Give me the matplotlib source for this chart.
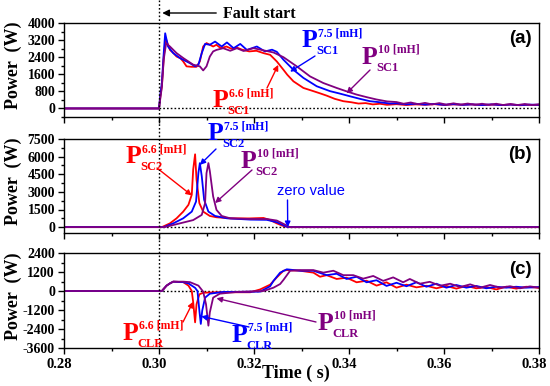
import matplotlib
matplotlib.use("Agg")
import matplotlib.pyplot as plt
from matplotlib.ticker import MultipleLocator, FormatStrFormatter
from matplotlib.lines import Line2D
from matplotlib.transforms import blended_transform_factory, ScaledTranslation

plt.rcParams['font.family'] = ['Liberation Serif', 'DejaVu Serif']
plt.rcParams['font.weight'] = 'bold'
plt.rcParams['axes.labelweight'] = 'bold'
plt.rcParams['axes.unicode_minus'] = False

RED = '#ff0000'
BLUE = '#0000ff'
PURPLE = '#800080'

# ---- (a) P_SC1 ----
t_sc1_66 = [0.280, 0.3000, 0.3003, 0.3006, 0.3010, 0.3014, 0.3023, 0.3030, 0.3037, 0.3045,
            0.3051, 0.3058, 0.3068, 0.3079, 0.3086, 0.3093, 0.3100, 0.3107, 0.3114, 0.3121,
            0.3130, 0.3142, 0.3152, 0.3164, 0.3175, 0.3190, 0.3205, 0.3220, 0.3234, 0.3248,
            0.3262, 0.3270, 0.3283, 0.3304, 0.3325, 0.3340, 0.3353, 0.3370, 0.3388, 0.3405,
            0.3420, 0.3435, 0.3450, 0.3465, 0.3480, 0.3500, 0.3520, 0.3540, 0.3560, 0.3580,
            0.3600, 0.3620, 0.3640, 0.3660, 0.3680, 0.3700, 0.3720, 0.3740, 0.3760, 0.3780, 0.3800]
p_sc1_66 = [0, 0, 600, 1040, 2400, 3290, 2740, 2600, 2430, 2350,
            2200, 1970, 1950, 1950, 2200, 2900, 3060, 2980, 2900, 2980,
            2820, 2900, 2800, 2850, 2750, 2670, 2700, 2590, 2510, 2200,
            1810, 1580, 1270, 960, 810, 700, 600, 450, 340, 290,
            230, 250, 190, 220, 170, 200, 160, 190, 170, 200,
            160, 190, 170, 190, 160, 180, 160, 180, 150, 170, 160]

t_sc1_75 = [0.280, 0.3000, 0.3003, 0.3006, 0.3010, 0.3013, 0.3019, 0.3030, 0.3044, 0.3058,
            0.3065, 0.3076, 0.3083, 0.3090, 0.3097, 0.3107, 0.3118, 0.3132, 0.3143, 0.3157,
            0.3171, 0.3185, 0.3206, 0.3223, 0.3238, 0.3248, 0.3262, 0.3283, 0.3304, 0.3332,
            0.3360, 0.3380, 0.3402, 0.3423, 0.3444, 0.3465, 0.3486, 0.3500, 0.3520, 0.3540,
            0.3560, 0.3580, 0.3600, 0.3620, 0.3640, 0.3660, 0.3680, 0.3700, 0.3720, 0.3740,
            0.3760, 0.3780, 0.3800]
p_sc1_75 = [0, 0, 700, 1200, 2600, 3520, 2900, 2590, 2360, 2200,
            2120, 1970, 2050, 2590, 3020, 2980, 3130, 2900, 3090, 2820,
            3020, 2740, 2900, 2670, 2750, 2650, 2280, 1810, 1430, 1040,
            810, 700, 570, 450, 340, 290, 230, 240, 190, 220,
            180, 210, 170, 200, 170, 190, 160, 190, 160, 180,
            160, 180, 170]

t_sc1_10 = [0.280, 0.3000, 0.3003, 0.3006, 0.3010, 0.3015, 0.3023, 0.3037, 0.3051, 0.3072,
            0.3086, 0.3093, 0.3100, 0.3107, 0.3114, 0.3121, 0.3135, 0.3150, 0.3164, 0.3178,
            0.3199, 0.3220, 0.3241, 0.3262, 0.3290, 0.3318, 0.3346, 0.3374, 0.3395, 0.3416,
            0.3437, 0.3458, 0.3480, 0.3500, 0.3515, 0.3530, 0.3545, 0.3560, 0.3575, 0.3590,
            0.3605, 0.3620, 0.3635, 0.3650, 0.3665, 0.3680, 0.3695, 0.3710, 0.3725, 0.3740,
            0.3755, 0.3770, 0.3785, 0.3800]
p_sc1_10 = [0, 0, 500, 1000, 2300, 3050, 2900, 2590, 2360, 2050,
            1970, 1780, 1970, 2430, 2670, 2740, 2820, 2700, 2820, 2690,
            2820, 2720, 2620, 2400, 1970, 1500, 1190, 960, 800, 650,
            530, 420, 330, 300, 220, 280, 200, 260, 190, 250,
            180, 240, 180, 230, 170, 220, 170, 220, 160, 210,
            160, 210, 160, 200]

# ---- (b) P_SC2 ----
t_sc2_66 = [0.280, 0.3006, 0.3023, 0.3037, 0.3051, 0.3062, 0.3069, 0.3072, 0.3076, 0.3079,
            0.3085, 0.3093, 0.3107, 0.3121, 0.3150, 0.3190, 0.3220, 0.3234, 0.3248, 0.3262,
            0.3272, 0.3800]
p_sc2_66 = [0, 0, 320, 750, 1320, 1900, 2760, 4910, 6200, 4050,
            2040, 1320, 950, 840, 750, 740, 780, 600, 320, 90,
            0, 0]

t_sc2_75 = [0.280, 0.3010, 0.3030, 0.3051, 0.3069, 0.3078, 0.3083, 0.3086, 0.3090, 0.3095,
            0.3104, 0.3118, 0.3143, 0.3192, 0.3227, 0.3248, 0.3265, 0.3272, 0.3800]
p_sc2_75 = [0, 0, 320, 750, 1320, 2180, 4630, 5450, 4340, 2330,
            1320, 950, 750, 640, 620, 420, 100, 0, 0]

t_sc2_10 = [0.280, 0.3012, 0.3044, 0.3072, 0.3090, 0.3097, 0.3100, 0.3104, 0.3107, 0.3114,
            0.3121, 0.3132, 0.3150, 0.3192, 0.3227, 0.3248, 0.3266, 0.3275, 0.3800]
p_sc2_10 = [0, 0, 320, 600, 1040, 2040, 4590, 5450, 4770, 2610,
            1470, 950, 750, 690, 690, 560, 200, 0, 0]

# ---- (c) P_CLR ----
t_clr_66 = [0.280, 0.3006, 0.3016, 0.3023, 0.3030, 0.3051, 0.3062, 0.3069, 0.3072, 0.3076,
            0.3079, 0.3085, 0.3093, 0.3121, 0.3192, 0.3213, 0.3234, 0.3248, 0.3262, 0.3269,
            0.3297, 0.3325, 0.3339, 0.3353, 0.3374, 0.3395, 0.3416, 0.3437, 0.3458, 0.3479,
            0.3500, 0.3521, 0.3542, 0.3563, 0.3584, 0.3605, 0.3626, 0.3647, 0.3668, 0.3689,
            0.3710, 0.3731, 0.3752, 0.3773, 0.3800]
p_clr_66 = [0, 0, 340, 480, 590, 560, 340, 0, -715, -1980,
            -840, -210, -110, -80, -80, 100, 400, 860, 1280, 1320,
            1280, 1160, 900, 1000, 760, 840, 550, 650, 340, 550,
            210, 400, 230, 330, 170, 320, 150, 320, 170, 250,
            100, 270, 150, 270, 200]

t_clr_75 = [0.280, 0.3006, 0.3016, 0.3023, 0.3030, 0.3051, 0.3062, 0.3076, 0.3081, 0.3085,
            0.3088, 0.3091, 0.3097, 0.3107, 0.3135, 0.3213, 0.3234, 0.3241, 0.3255, 0.3269,
            0.3297, 0.3325, 0.3353, 0.3374, 0.3395, 0.3416, 0.3437, 0.3458, 0.3479, 0.3500,
            0.3521, 0.3542, 0.3563, 0.3584, 0.3605, 0.3626, 0.3647, 0.3668, 0.3689, 0.3710,
            0.3731, 0.3752, 0.3773, 0.3800]
p_clr_75 = [0, 0, 340, 480, 590, 560, 480, 200, 0, -1240,
            -2080, -1240, -420, -170, -60, -40, 300, 640, 1160, 1370,
            1280, 1280, 1000, 1090, 760, 900, 550, 680, 320, 520,
            300, 550, 270, 460, 210, 380, 210, 320, 170, 270,
            210, 270, 210, 250]

t_clr_10 = [0.280, 0.3006, 0.3016, 0.3023, 0.3030, 0.3051, 0.3065, 0.3083, 0.3093, 0.3099,
            0.3104, 0.3107, 0.3114, 0.3128, 0.3164, 0.3220, 0.3241, 0.3255, 0.3262, 0.3276,
            0.3297, 0.3325, 0.3346, 0.3367, 0.3388, 0.3409, 0.3430, 0.3451, 0.3472, 0.3493,
            0.3514, 0.3528, 0.3549, 0.3570, 0.3592, 0.3613, 0.3634, 0.3655, 0.3676, 0.3697,
            0.3718, 0.3739, 0.3760, 0.3781, 0.3800]
p_clr_10 = [0, 0, 340, 480, 590, 590, 560, 340, -40, -840,
            -2190, -1350, -420, -170, -60, 0, 210, 440, 700, 1280,
            1320, 1320, 1160, 1280, 1000, 1000, 780, 950, 640, 860,
            550, 760, 460, 580, 330, 460, 250, 420, 210, 380,
            210, 300, 170, 290, 210]

W, H = 550, 386


def fx(px):
    return px / W


def fy(py):
    return 1 - py / H


fig = plt.figure(figsize=(5.5, 3.86), dpi=100)
ax_a = fig.add_axes([fx(64), fy(117), fx(539) - fx(64), fy(23) - fy(117)])
ax_b = fig.add_axes([fx(64), fy(233), fx(539) - fx(64), fy(139) - fy(233)])
ax_c = fig.add_axes([fx(64), fy(348), fx(539) - fx(64), fy(253) - fy(348)])

panels = [
    (ax_a, (-400, 4000), 800, 400, '(a)',
     [(t_sc1_66, p_sc1_66, RED), (t_sc1_75, p_sc1_75, BLUE), (t_sc1_10, p_sc1_10, PURPLE)]),
    (ax_b, (-500, 7500), 1500, 750, '(b)',
     [(t_sc2_66, p_sc2_66, RED), (t_sc2_75, p_sc2_75, BLUE), (t_sc2_10, p_sc2_10, PURPLE)]),
    (ax_c, (-3600, 2400), 1200, 600, '(c)',
     [(t_clr_66, p_clr_66, RED), (t_clr_75, p_clr_75, BLUE), (t_clr_10, p_clr_10, PURPLE)]),
]

for ax, ylim, major, minor, tag, series in panels:
    ax.plot([0.30, 0.38], [0, 0], color='black', lw=1.0, ls=(0, (1.2, 1.5)))
    for t, p, c in series:
        ax.plot(t, p, color=c, lw=1.3)
    ax.set_xlim(0.28, 0.38)
    ax.set_ylim(*ylim)
    ax.xaxis.set_major_locator(MultipleLocator(0.02))
    ax.xaxis.set_minor_locator(MultipleLocator(0.01))
    ax.yaxis.set_major_locator(MultipleLocator(major))
    ax.yaxis.set_minor_locator(MultipleLocator(minor))
    ax.yaxis.set_major_formatter(FormatStrFormatter('%d'))
    ax.xaxis.set_major_formatter(FormatStrFormatter('%.2f'))
    ax.tick_params(which='both', direction='out', top=False, right=False, width=1.0,
                   labelsize=10, pad=2)
    ax.tick_params(which='major', length=4.5)
    ax.tick_params(which='minor', length=2.5)
    for s in ax.spines.values():
        s.set_linewidth(1.0)
    if ax is not ax_c:
        ax.tick_params(axis='x', labelbottom=False)
    ax.set_ylabel('Power  (W)', fontsize=13)
    ax.yaxis.set_label_coords(-0.088, 0.55)
    ax.text(0.985, 0.83, tag, transform=ax.transAxes, ha='right', va='center',
            fontsize=13.5, fontweight='bold', family='Liberation Sans')

ax_c.tick_params(axis='x', labelsize=10.5, pad=3)
ax_c.set_xlabel('Time ( s)', fontsize=13)
ax_c.xaxis.set_label_coords(0.488, -0.18)

# the x tick labels sit a little left of their ticks in the original
fig.canvas.draw()
shift = ScaledTranslation(-5 / 100, 0, fig.dpi_scale_trans)
for lab in ax_c.get_xticklabels():
    lab.set_transform(lab.get_transform() + shift)

# vertical fault line spanning all panels
tr = blended_transform_factory(ax_c.transData, fig.transFigure)
fig.add_artist(Line2D([0.30, 0.30], [1.0, fy(348)], transform=tr, color='black',
                      lw=1.0, ls=(0, (1.2, 1.5))))

ax_a.annotate('', xy=(0.3001, fy(13)), xycoords=('data', 'figure fraction'),
              xytext=(fx(219), fy(13)), textcoords='figure fraction',
              arrowprops=dict(arrowstyle='-|>', color='black', lw=1.0, mutation_scale=10))
fig.text(fx(223), fy(18), 'Fault start', fontsize=11.5, va='baseline')


def plabel(x, y, sup, sub, color):
    fig.text(fx(x), fy(y), 'P', fontsize=18.5, color=color, va='baseline')
    fig.text(fx(x + 16), fy(y - 11), sup, fontsize=8.5, color=color, va='baseline')
    fig.text(fx(x + 14), fy(y + 7), sub, fontsize=9, color=color, va='baseline')


def arrow(ax, t, v, x, y, color):
    ax.annotate('', xy=(t, v), xycoords='data', xytext=(fx(x), fy(y)),
                textcoords='figure fraction',
                arrowprops=dict(arrowstyle='-|>', color=color, lw=1.0, mutation_scale=8,
                                shrinkA=0, shrinkB=0))


# panel (a) labels
plabel(213, 107, '6.6 [mH]', 'SC1', RED)
plabel(302, 47, '7.5 [mH]', 'SC1', BLUE)
plabel(362, 64, '10 [mH]', 'SC1', PURPLE)
arrow(ax_a, 0.3251, 2040, 267, 88, RED)
arrow(ax_a, 0.3276, 1720, 315, 56, BLUE)
arrow(ax_a, 0.3395, 710, 370, 70, PURPLE)

# panel (b) labels
plabel(126, 163, '6.6 [mH]', 'SC2', RED)
plabel(208, 140, '7.5 [mH]', 'SC2', BLUE)
plabel(241, 168, '10 [mH]', 'SC2', PURPLE)
arrow(ax_b, 0.3069, 2700, 157, 168, RED)
arrow(ax_b, 0.3086, 5300, 216, 149, BLUE)
arrow(ax_b, 0.3118, 2050, 252, 170, PURPLE)
fig.text(fx(277), fy(195), 'zero value', fontsize=10.5, color=BLUE,
         family='Liberation Sans', fontweight='normal', va='baseline')
arrow(ax_b, 0.3271, 0, 287.5, 200, BLUE)

# panel (c) labels
plabel(123, 340, '6.6 [mH]', 'CLR', RED)
plabel(232, 342, '7.5 [mH]', 'CLR', BLUE)
plabel(318, 330, '10 [mH]', 'CLR', PURPLE)
arrow(ax_c, 0.3072, -680, 183, 322, RED)
arrow(ax_c, 0.3089, -1600, 249, 327, BLUE)
arrow(ax_c, 0.3121, -460, 316, 322, PURPLE)

fig.savefig('out.png', dpi=100)
